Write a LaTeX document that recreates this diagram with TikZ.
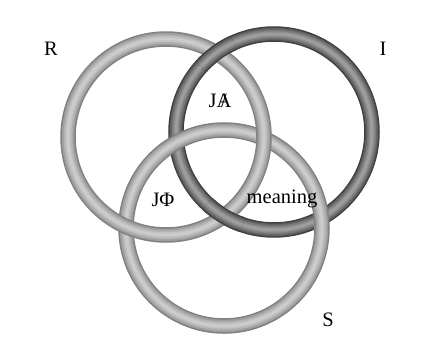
\documentclass[tikz,border=0pt]{standalone}
\usepackage{fontspec}
\setmainfont{Liberation Serif}
\newcommand{\Abar}{{\ooalign{A\cr\hidewidth/\hidewidth\cr}}}
\begin{document}
\begin{tikzpicture}[x=1pt,y=-1pt,font=\fontsize{20.5}{20.5}\selectfont]
% Borromean knot R, S, I. Pixel units, y downwards.
\useasboundingbox (0,0) rectangle (423,340);

\tikzset{
  tube/.style n args={5}{draw=black!#1,line width=15.5pt,
    postaction={draw=black!#2,line width=12.5pt},
    postaction={draw=black!#3,line width=9pt},
    postaction={draw=black!#4,line width=5.5pt},
    postaction={draw=black!#5,line width=2.5pt}},
  lightring/.style={tube={50}{38}{30}{24}{20}},
  darkring/.style={tube={75}{62}{52}{44}{38}},
  lab/.style={inner sep=1pt}
}

\coordinate (cR) at (166,137);
\coordinate (cI) at (274,132);
\coordinate (cS) at (224,228);

% S over I, R over S, I over R.
\draw[darkring] (cI) circle[radius=98];
\draw[lightring] (cS) circle[radius=98];
\draw[lightring] (cR) circle[radius=98];
\draw[darkring] ([shift={(221.7:98)}]cI) arc[start angle=221.7,end angle=245.7,radius=98];
\draw[darkring] ([shift={(108.8:98)}]cI) arc[start angle=108.8,end angle=132.8,radius=98];

% Labels.
\node[lab] (lR) at (51,49) {R};
\node[lab] (lI) at (383,49) {I};
\node[lab] (lS) at (328,320) {S};
\node[lab] (lJA) at (220,101) {J\Abar};
\node[lab] (lJP) at (163,200) {JΦ};
\node[lab] (lmean) at (282,199) {meaning};
\end{tikzpicture}
\end{document}
